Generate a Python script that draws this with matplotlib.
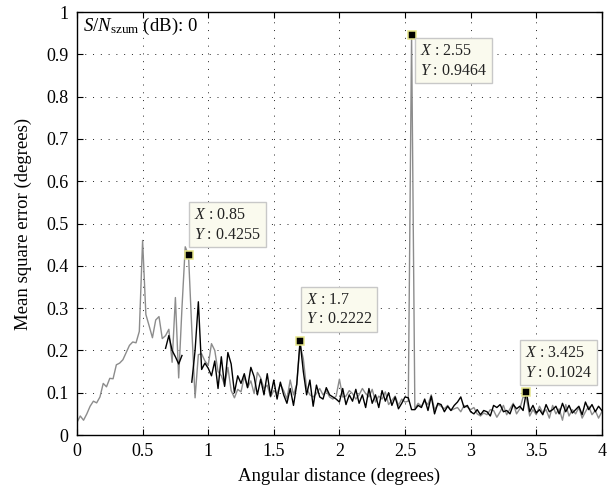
import numpy as np
import matplotlib
matplotlib.use("Agg")
import matplotlib.pyplot as plt

plt.rcParams['font.family'] = ['Liberation Serif', 'DejaVu Serif']
plt.rcParams['mathtext.fontset'] = 'custom'
plt.rcParams['mathtext.rm'] = 'Liberation Serif'
plt.rcParams['mathtext.it'] = 'Liberation Serif:italic'

# gray curve, sampled every 0.025 deg from 0 to 4
gray_y = [
    0.030, 0.045, 0.035, 0.050, 0.068, 0.080, 0.076, 0.090, 0.122, 0.114,
    0.134, 0.133, 0.166, 0.170, 0.178, 0.195, 0.212, 0.220, 0.218, 0.245,
    0.460, 0.285, 0.258, 0.230, 0.272, 0.280, 0.228, 0.235, 0.250, 0.172,
    0.325, 0.135, 0.300, 0.445, 0.4255, 0.250, 0.088, 0.190, 0.192, 0.175,
    0.165, 0.216, 0.200, 0.150, 0.140, 0.118, 0.160, 0.105, 0.088, 0.108,
    0.102, 0.138, 0.112, 0.128, 0.098, 0.148, 0.135, 0.110, 0.118, 0.090,
    0.105, 0.098, 0.120, 0.105, 0.085, 0.130, 0.095, 0.120, 0.215, 0.180,
    0.110, 0.095, 0.090, 0.098, 0.110, 0.095, 0.105, 0.090, 0.085, 0.092,
    0.132, 0.090, 0.092, 0.105, 0.098, 0.085, 0.095, 0.110, 0.098, 0.090,
    0.108, 0.078, 0.092, 0.085, 0.102, 0.072, 0.082, 0.092, 0.070, 0.085,
    0.078, 0.080, 0.9464, 0.062, 0.075, 0.068, 0.080, 0.072, 0.095, 0.060,
    0.072, 0.068, 0.062, 0.070, 0.058, 0.062, 0.065, 0.055, 0.070, 0.066,
    0.060, 0.065, 0.050, 0.045, 0.052, 0.048, 0.060, 0.058, 0.042, 0.055,
    0.070, 0.048, 0.062, 0.075, 0.050, 0.062, 0.090, 0.088, 0.045, 0.060,
    0.048, 0.068, 0.052, 0.060, 0.040, 0.070, 0.050, 0.062, 0.035, 0.072,
    0.045, 0.060, 0.050, 0.065, 0.040, 0.055, 0.068, 0.048, 0.058, 0.040,
    0.055,
]
gray_x = np.linspace(0, 4, len(gray_y))

# black curve, sampled every 0.025 deg from 0.675 to 4 (gap near 0.83)
black_y = [
    0.205, 0.235, 0.200, 0.185, 0.168, 0.188, np.nan, np.nan, 0.125, 0.200,
    0.315, 0.155, 0.170, 0.158, 0.140, 0.175, 0.110, 0.185, 0.115, 0.195,
    0.168, 0.100, 0.140, 0.122, 0.145, 0.112, 0.160, 0.138, 0.095, 0.132,
    0.095, 0.145, 0.092, 0.130, 0.085, 0.125, 0.095, 0.075, 0.110, 0.070,
    0.120, 0.2222, 0.150, 0.095, 0.130, 0.068, 0.118, 0.090, 0.085, 0.112,
    0.095, 0.090, 0.085, 0.078, 0.110, 0.072, 0.095, 0.080, 0.108, 0.075,
    0.095, 0.065, 0.110, 0.075, 0.095, 0.065, 0.105, 0.080, 0.100, 0.070,
    0.090, 0.062, 0.075, 0.090, 0.088, 0.060, 0.060, 0.070, 0.065, 0.085,
    0.058, 0.092, 0.050, 0.075, 0.072, 0.055, 0.068, 0.058, 0.070, 0.078,
    0.090, 0.065, 0.070, 0.055, 0.050, 0.060, 0.048, 0.058, 0.055, 0.045,
    0.070, 0.065, 0.072, 0.055, 0.058, 0.050, 0.072, 0.062, 0.068, 0.058,
    0.1024, 0.055, 0.070, 0.052, 0.060, 0.048, 0.072, 0.055, 0.060, 0.068,
    0.050, 0.075, 0.055, 0.070, 0.052, 0.060, 0.068, 0.048, 0.078, 0.060,
    0.072, 0.055, 0.068, 0.058,
]
black_x = np.linspace(0.675, 4, len(black_y))

# data tips
tips_x = [0.85, 1.7, 2.55, 3.425]
tips_y = [0.4255, 0.2222, 0.9464, 0.1024]
tips_xtxt = ["0.85", "1.7", "2.55", "3.425"]
tips_ytxt = ["0.4255", "0.2222", "0.9464", "0.1024"]
tips_off = [(4, 9), (4, 10), (6, -6), (-1, 8)]
tips_va = ['bottom', 'bottom', 'top', 'bottom']

fig = plt.figure(figsize=(6.11, 4.93), dpi=100)
ax = fig.add_axes([0.126, 0.1176, 0.859, 0.858])

ax.plot(gray_x, gray_y, color='#8c8c8c', lw=1.0)
ax.plot(black_x, black_y, color='black', lw=1.0)

for x, y, xt, yt, off, va in zip(tips_x, tips_y, tips_xtxt, tips_ytxt, tips_off, tips_va):
    ax.plot(x, y, marker='s', ms=5.5, color='black', mec='#e6e68a', mew=1.1, zorder=5)
    ax.annotate(f"$X$ : {xt}\n$Y$ : {yt}", xy=(x, y), xytext=off,
                textcoords='offset points', ha='left', va=va,
                fontsize=11.5, linespacing=1.3, color='#222222',
                bbox=dict(boxstyle='square,pad=0.3', fc='#fafaee', ec='#c8c8c8', lw=1.0),
                zorder=6)

ax.set_xlim(0, 4)
ax.set_ylim(0, 1)
ax.set_xticks([0, 0.5, 1, 1.5, 2, 2.5, 3, 3.5, 4])
ax.set_xticklabels(['0', '0.5', '1', '1.5', '2', '2.5', '3', '3.5', '4'])
ax.set_yticks(np.arange(0, 1.01, 0.1))
ax.set_yticklabels(['0', '0.1', '0.2', '0.3', '0.4', '0.5', '0.6', '0.7', '0.8', '0.9', '1'])
ax.tick_params(direction='in', top=True, right=True, length=4, width=0.8,
               labelsize=13, pad=6)
ax.grid(True, color='#222222', linestyle=(0, (1, 7)), linewidth=0.7)
for s in ax.spines.values():
    s.set_linewidth(1.0)

ax.set_xlabel('Angular distance (degrees)', fontsize=13.5, labelpad=5)
ax.set_ylabel('Mean square error (degrees)', fontsize=13.5, labelpad=10)

ax.text(0.012, 0.99, r"$S/N_{\mathrm{szum}}$ (dB): 0", transform=ax.transAxes,
        ha='left', va='top', fontsize=13.5)

fig.savefig('out.png', dpi=100)
